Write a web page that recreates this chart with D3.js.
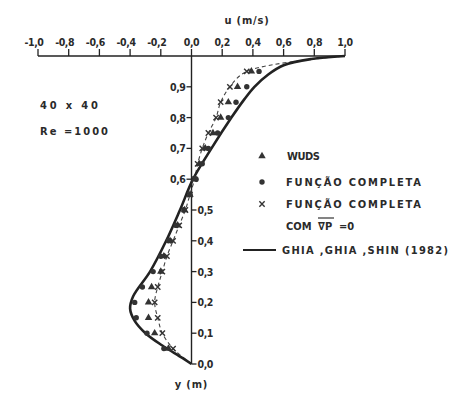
<!DOCTYPE html>
<html>
<head>
<meta charset="utf-8">
<script src="https://cdn.jsdelivr.net/npm/d3@7"></script>
<style>
  html, body { margin: 0; padding: 0; background: #fff; }
  svg { display: block; }
  text { font-family: "DejaVu Sans Condensed", "DejaVu Sans", sans-serif; fill: #2a2a2a; font-weight: bold; }
</style>
</head>
<body>
<svg id="chart" width="451" height="399"></svg>
<script>
// Horizontal velocity u along the vertical centreline of the driven cavity, Re = 1000
const uTicks = [-1.0, -0.8, -0.6, -0.4, -0.2, 0.0, 0.2, 0.4, 0.6, 0.8, 1.0];
const yTicksUpper = [0.6, 0.7, 0.8, 0.9];
const yTicksLower = [0.0, 0.1, 0.2, 0.3, 0.4, 0.5];

// Reference solution curve (Ghia, Ghia & Shin, 1982)
const ghiaY = [0.0, 0.02, 0.06, 0.1, 0.14, 0.18, 0.22, 0.3, 0.4, 0.5, 0.6, 0.7, 0.8, 0.86, 0.9, 0.94, 0.97, 0.99, 1.0];
const ghiaU = [0.0, -0.06, -0.19, -0.3, -0.37, -0.4, -0.38, -0.27, -0.165, -0.075, 0.01, 0.13, 0.26, 0.345, 0.41, 0.5, 0.6, 0.78, 1.0];

// 40 x 40 grid results
const gridY = [0.05, 0.1, 0.15, 0.2, 0.25, 0.3, 0.35, 0.4, 0.45, 0.5, 0.55, 0.6, 0.65, 0.7, 0.75, 0.8, 0.85, 0.9, 0.95];
const wudsU = [-0.15, -0.24, -0.28, -0.28, -0.26, -0.2, -0.18, -0.14, -0.09, -0.045, -0.01, 0.02, 0.05, 0.09, 0.14, 0.19, 0.24, 0.3, 0.39];
const completaU = [-0.18, -0.29, -0.36, -0.37, -0.32, -0.25, -0.2, -0.15, -0.1, -0.05, -0.01, 0.03, 0.07, 0.11, 0.17, 0.24, 0.29, 0.36, 0.44];
const semGradU = [-0.12, -0.19, -0.22, -0.24, -0.22, -0.19, -0.16, -0.12, -0.08, -0.04, -0.01, 0.02, 0.04, 0.07, 0.11, 0.16, 0.19, 0.25, 0.36];
// wall conditions: fixed bottom, moving lid
const wallBottom = { y: 0.0, u: 0.0 };
const wallLid = { y: 1.0, u: 1.0 };

const svg = d3.select("#chart");
const x = d3.scaleLinear().domain([-1, 1]).range([38, 345]);
const y = d3.scaleLinear().domain([0, 1]).range([364, 56]);

const ink = "#222";

// top (u) axis
const topAxis = svg.append("g");
topAxis.append("line")
  .attr("x1", x(-1)).attr("x2", x(1)).attr("y1", y(1)).attr("y2", y(1))
  .attr("stroke", ink).attr("stroke-width", 1.6);
topAxis.selectAll("line.tick").data(uTicks).join("line")
  .attr("class", "tick")
  .attr("x1", d => x(d)).attr("x2", d => x(d))
  .attr("y1", y(1)).attr("y2", y(1) - 7)
  .attr("stroke", ink).attr("stroke-width", 1.3);
const fmt = d => d3.format(".1f")(Math.abs(d)).replace(".", ",");
topAxis.selectAll("text").data(uTicks).join("text")
  .attr("x", d => d < 0 ? x(d) - 4 : x(d))
  .attr("y", y(1) - 10)
  .attr("text-anchor", "middle")
  .attr("font-size", 10.5)
  .attr("letter-spacing", -0.4)
  .text(d => (d < 0 ? "-" : "") + fmt(d));
svg.append("text")
  .attr("x", 247).attr("y", 24)
  .attr("text-anchor", "middle")
  .attr("font-size", 11)
  .attr("letter-spacing", 0.8)
  .text("u (m/s)");

// vertical (y) axis
const axisX = x(0);
svg.append("line")
  .attr("x1", axisX).attr("x2", axisX).attr("y1", y(1)).attr("y2", y(0))
  .attr("stroke", ink).attr("stroke-width", 1.4);
svg.selectAll("line.ytu").data(yTicksUpper).join("line")
  .attr("class", "ytu")
  .attr("x1", axisX - 5).attr("x2", axisX)
  .attr("y1", d => y(d)).attr("y2", d => y(d))
  .attr("stroke", ink).attr("stroke-width", 1.3);
svg.selectAll("text.ytu").data(yTicksUpper).join("text")
  .attr("class", "ytu")
  .attr("x", axisX - 6).attr("y", d => y(d) + 4)
  .attr("text-anchor", "end")
  .attr("font-size", 10.5)
  .attr("letter-spacing", -0.4)
  .text(d => fmt(d));
svg.selectAll("line.ytl").data(yTicksLower).join("line")
  .attr("class", "ytl")
  .attr("x1", axisX).attr("x2", axisX + 5)
  .attr("y1", d => y(d)).attr("y2", d => y(d))
  .attr("stroke", ink).attr("stroke-width", 1.3);
svg.selectAll("text.ytl").data(yTicksLower).join("text")
  .attr("class", "ytl")
  .attr("x", axisX + 6).attr("y", d => y(d) + 4)
  .attr("font-size", 10.5)
  .attr("letter-spacing", -0.4)
  .text(d => fmt(d));
svg.append("text")
  .attr("x", axisX).attr("y", 388)
  .attr("text-anchor", "middle")
  .attr("font-size", 11)
  .attr("letter-spacing", 0.8)
  .text("y (m)");

// case annotation
svg.append("text").attr("x", 40).attr("y", 109).attr("font-size", 11)
  .attr("textLength", 58).attr("lengthAdjust", "spacing").text("40 x 40");
svg.append("text").attr("x", 40).attr("y", 135).attr("font-size", 11)
  .attr("textLength", 68).attr("lengthAdjust", "spacing").text("Re =1000");

// curves
const line = d3.line().x(d => x(d.u)).y(d => y(d.y)).curve(d3.curveCatmullRom.alpha(0.5));
const ghia = ghiaY.map((v, i) => ({ y: v, u: ghiaU[i] }));
const semGrad = [wallBottom, ...gridY.map((v, i) => ({ y: v, u: semGradU[i] })), wallLid];

svg.append("path").datum(semGrad)
  .attr("d", line).attr("fill", "none")
  .attr("stroke", "#444").attr("stroke-width", 1.1)
  .attr("stroke-dasharray", "4,3");
svg.append("path").datum(ghia)
  .attr("d", line).attr("fill", "none")
  .attr("stroke", ink).attr("stroke-width", 2.6);

// markers
const tri = d3.symbol().type(d3.symbolTriangle).size(24);
const cross = d3.symbol().type(d3.symbolX).size(20);
svg.append("g").selectAll("path").data(gridY.map((v, i) => ({ y: v, u: wudsU[i] }))).join("path")
  .attr("transform", d => `translate(${x(d.u)},${y(d.y)})`)
  .attr("d", tri).attr("fill", "#333");
svg.append("g").selectAll("circle").data(gridY.map((v, i) => ({ y: v, u: completaU[i] }))).join("circle")
  .attr("cx", d => x(d.u)).attr("cy", d => y(d.y)).attr("r", 2.7).attr("fill", "#333");
svg.append("g").selectAll("path").data(gridY.map((v, i) => ({ y: v, u: semGradU[i] }))).join("path")
  .attr("transform", d => `translate(${x(d.u)},${y(d.y)})`)
  .attr("d", cross).attr("fill", "none").attr("stroke", "#333").attr("stroke-width", 1.4);

// legend
const lg = svg.append("g");
lg.append("path").attr("transform", "translate(262,156)").attr("d", tri).attr("fill", "#333");
lg.append("circle").attr("cx", 262).attr("cy", 182).attr("r", 2.7).attr("fill", "#333");
lg.append("path").attr("transform", "translate(262,204)").attr("d", cross)
  .attr("fill", "none").attr("stroke", "#333").attr("stroke-width", 1.4);
lg.append("text").attr("x", 287).attr("y", 160).attr("font-size", 11)
  .attr("textLength", 33).attr("lengthAdjust", "spacing").text("WUDS");
lg.append("text").attr("x", 286).attr("y", 186).attr("font-size", 11)
  .attr("textLength", 135).attr("lengthAdjust", "spacing").text("FUNÇÃO COMPLETA");
lg.append("text").attr("x", 286).attr("y", 208).attr("font-size", 11)
  .attr("textLength", 135).attr("lengthAdjust", "spacing").text("FUNÇÃO COMPLETA");
lg.append("text").attr("x", 286).attr("y", 230).attr("font-size", 11)
  .text("COM");
lg.append("text").attr("x", 318).attr("y", 230).attr("font-size", 11)
  .text("∇P");
lg.append("line").attr("x1", 318).attr("x2", 334).attr("y1", 218).attr("y2", 218)
  .attr("stroke", "#333").attr("stroke-width", 1.2);
lg.append("text").attr("x", 339).attr("y", 230).attr("font-size", 11)
  .text("=0");
lg.append("line").attr("x1", 243).attr("x2", 276).attr("y1", 250).attr("y2", 250)
  .attr("stroke", ink).attr("stroke-width", 2.2);
lg.append("text").attr("x", 282).attr("y", 254).attr("font-size", 11)
  .attr("textLength", 166).attr("lengthAdjust", "spacing").text("GHIA ,GHIA ,SHIN (1982)");
</script>
</body>
</html>
